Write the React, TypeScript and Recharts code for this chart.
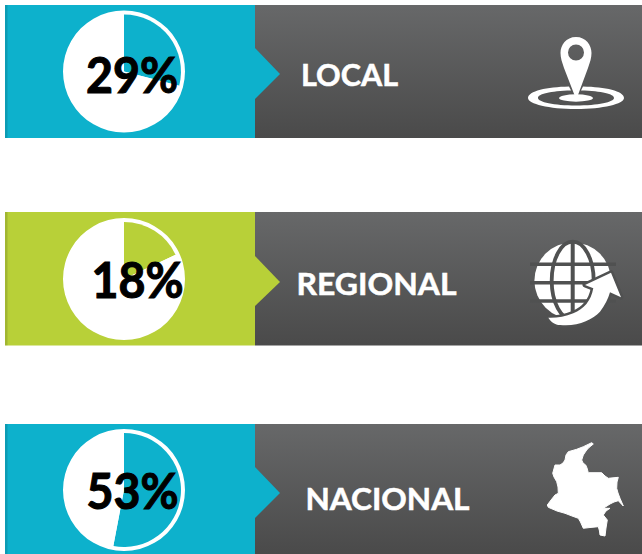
import React from "react";
import { PieChart, Pie, Cell } from "recharts";

const categories = ["LOCAL", "REGIONAL", "NACIONAL"];
const values = [29, 18, 53];
const panelColors = ["#0DB1CC", "#B8D038", "#0DB1CC"];
const centers = [[124, 71.5], [124, 279], [124, 490]];
const panels = [[5, 133], [212, 133.5], [424, 130]];
const arrows = [[48, 74, 99], [256, 282, 306], [467, 493, 518]];
const pctPos = [[132, 93], [137.5, 298], [132.5, 509]];
const labelPos = [[349.5, 86], [376.5, 295], [387.5, 510]];
const labelWidths = [97, 160, 164];

const FONT = "Lato, 'Noto Sans', sans-serif";
const W = 642;
const H = 554;

function Icons() {
  return (
    <g fill="#fff" style={{ filter: "blur(0.4px)" }}>
      <path
        fillRule="evenodd"
        d="M576 37 C566 37 560.5 45 560.5 53 C560.5 58 562 62 564 68 L576 99 L576.5 99 L588 68 C590 62 591.5 58 591.5 53 C591.5 45 586 37 576 37 Z M576 44.5 A8 8 0 1 1 576 60.5 A8 8 0 1 1 576 44.5 Z"
      />
      <path
        fillRule="evenodd"
        d="M528 98 C528 91 547 87 569 86.5 L571 90.5 C550 91 538 94 538 98 C538 102 554 105.5 576 105.5 C598 105.5 614 102 614 98 C614 94 602 91 581 90.5 L583 86.5 C605 87 624 91 624 98 C624 104 603 109 576 109 C549 109 528 104 528 98 Z"
      />
      <ellipse cx="576" cy="98" rx="17" ry="3.7" />
      <circle cx="572.7" cy="280.7" r="38.3" />
      <g stroke="#505151" fill="none">
        <path strokeWidth="3.4" d="M530 264.3 H616 M530 282.7 H616 M530 301 H616" />
        <path strokeWidth="4" d="M572.7 240 V322" />
        <ellipse strokeWidth="3.8" cx="572.7" cy="280.7" rx="21" ry="39" />
      </g>
      <path
        stroke="#505151"
        strokeWidth="5"
        strokeLinejoin="round"
        d="M611 272.7 L585 285 L593.3 288.3 C591 301 584 309 573.3 313.3 C565 317 556 318 548.3 317.7 C551 322 555 325 560 325 C577 327 592 320 600 311.7 C605 305 608 299 610 292.3 L621 297.3 Z"
      />
      <path
        d="M611 272.7 L585 285 L593.3 288.3 C591 301 584 309 573.3 313.3 C565 317 556 318 548.3 317.7 C551 322 555 325 560 325 C577 327 592 320 600 311.7 C605 305 608 299 610 292.3 L621 297.3 Z"
      />
      <path
        stroke="#fff"
        strokeWidth="1"
        strokeLinejoin="round"
        d="M591.7 442.7 L593.3 444 L589 447.5 L586.7 450 L583.3 455 L581.7 460 L583 463 L585.7 465 L587 468 L588.3 472.7 L601.7 472.7 L605 476 L608.3 478.3 L618.3 477.3 L617 482 L616.7 488.3 L618 493 L620 498.3 L623.3 506 L618.3 500.7 L614 502 L610 504 L603.3 508.3 L610 508.3 L606 511 L603.3 515 L607.3 520 L606 528 L605 536 L600 535 L599.5 531 L598.3 526.7 L590 527.5 L583.3 528.3 L580.5 522 L578.3 518.3 L572 516 L565 513.3 L557 511 L548.3 507.3 L547.3 505 L551 500 L555 495 L558.3 493.3 L558 487 L556.7 481.7 L554 477 L552.7 473.3 L555 465 L560 465 L563 463 L565 460 L566 455 L568.3 451.7 L576.7 449.3 L583.3 446.7 Z"
      />
    </g>
  );
}

export default function App() {
  return (
    <div style={{ position: "absolute", left: 0, top: 0, width: W, height: H, background: "#fff", overflow: "hidden" }}>
      <svg width={W} height={H} style={{ position: "absolute", left: 0, top: 0 }}>
        <defs>
          <linearGradient id="dark" x1="0" y1="0" x2="0" y2="1">
            <stop offset="0" stopColor="#676869" />
            <stop offset="1" stopColor="#4A4A4A" />
          </linearGradient>
        </defs>
        {panels.map(([y, h], i) => (
          <g key={i}>
            <rect x={5} y={y} width={250} height={h} fill={panelColors[i]} />
            <rect x={5} y={y} width={2.5} height={h} fill="#000" opacity={0.12} />
            <rect x={255} y={y} width={W - 255} height={h} fill="url(#dark)" />
            <polygon points={`255,${arrows[i][0]} 280,${arrows[i][1]} 255,${arrows[i][2]}`} fill={panelColors[i]} />
          </g>
        ))}
        <Icons />
      </svg>
      <div style={{ position: "absolute", left: 0, top: 0 }}>
        <PieChart width={W} height={H} margin={{ top: 0, right: 0, bottom: 0, left: 0 }}>
          {values.map((v, i) => (
            <Pie
              key={`ring-${i}`}
              data={[{ name: categories[i], value: 100 }]}
              dataKey="value"
              cx={centers[i][0]}
              cy={centers[i][1]}
              innerRadius={0}
              outerRadius={61}
              startAngle={90}
              endAngle={-270}
              stroke="none"
              fill="#fff"
              isAnimationActive={false}
            />
          ))}
          {values.map((v, i) => (
            <Pie
              key={`pie-${i}`}
              data={[
                { name: categories[i], value: v },
                { name: "rest", value: 100 - v },
              ]}
              dataKey="value"
              cx={centers[i][0]}
              cy={centers[i][1]}
              innerRadius={0}
              outerRadius={57}
              startAngle={90}
              endAngle={-270}
              stroke="none"
              isAnimationActive={false}
            >
              <Cell fill={panelColors[i]} />
              <Cell fill="#fff" />
            </Pie>
          ))}
        </PieChart>
      </div>
      <svg width={W} height={H} style={{ position: "absolute", left: 0, top: 0 }}>
        {values.map((v, i) => (
          <text
            key={i}
            x={pctPos[i][0]}
            y={pctPos[i][1]}
            textAnchor="middle"
            textLength={92}
            lengthAdjust="spacingAndGlyphs"
            fontFamily={FONT}
            fontWeight={700}
            fontSize={49}
            fill="#000"
            stroke="#000"
            strokeWidth={1.1}
          >
            {`${v}%`}
          </text>
        ))}
        {categories.map((c, i) => (
          <text
            key={c}
            x={labelPos[i][0]}
            y={labelPos[i][1]}
            textAnchor="middle"
            textLength={labelWidths[i]}
            lengthAdjust="spacingAndGlyphs"
            fontFamily={FONT}
            fontWeight={700}
            fontSize={30}
            fill="#fff"
            stroke="#fff"
            strokeWidth={0.5}
          >
            {c}
          </text>
        ))}
      </svg>
    </div>
  );
}
